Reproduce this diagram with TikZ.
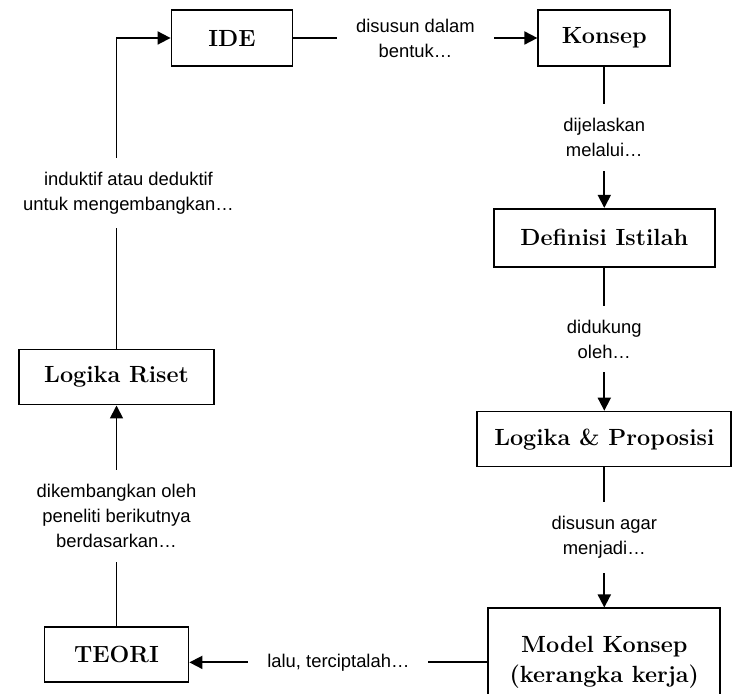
\documentclass[tikz,border=0pt]{standalone}
\usepackage{amsmath}
\usepackage{xcolor}
\usepackage{fontspec}
\newfontfamily\phrasefont{Liberation Sans}
\usepackage{tikz}
\usetikzlibrary{arrows.meta, positioning}
\tikzstyle{concept} = [rectangle, draw, line width=0.9pt, minimum height=28pt, text centered, align=center, font=\fontsize{11.7}{15}\selectfont\bfseries]
\tikzstyle{arrow} = [line width=0.9pt, -{Triangle[length=6.5pt, width=6.5pt]}]
\tikzstyle{phrase} = [fill=white, align=center, inner xsep=9.5pt, inner ysep=7pt, font=\phrasefont\fontsize{9.2}{12.5}\selectfont]

\begin{document}
\begin{tikzpicture}[node distance=0cm]
        \useasboundingbox (0,0) rectangle (370pt,-347pt);
        \node (ide) [concept, minimum width=60.5pt] at (116pt,-19pt) {IDE};
        \node (konsep) [concept, minimum width=66pt, right=122pt of ide] {Konsep};
        \node (definisi) [concept, minimum width=110.5pt, minimum height=29pt, below=70.5pt of konsep] {Definisi Istilah};
        \node (proposisi) [concept, minimum width=127pt, minimum height=27.5pt, below=71.5pt of definisi] {Logika \& Proposisi};
        \node (model) [concept, minimum width=116pt, minimum height=54pt, below=70pt of proposisi] {Model Konsep\\(kerangka kerja)};
        \node (teori) [concept, minimum width=72pt, minimum height=27.5pt, left=149pt of model, yshift=3.75pt] {TEORI};
        \node (riset) [concept, minimum width=97.5pt, minimum height=27.5pt, above=110.5pt of teori] {Logika Riset};

        \draw [arrow] (ide) -- node [phrase] {disusun dalam\\bentuk…} (konsep);
        \draw [arrow] (konsep) -- node [phrase] {dijelaskan\\melalui…} (definisi);
        \draw [arrow] (definisi) -- node [phrase] {didukung\\oleh…} (proposisi);
        \draw [arrow] (proposisi) -- node [phrase] {disusun agar\\menjadi…} (model);
        \draw [arrow] (model.west) -- node [phrase] {lalu, terciptalah…} (model.west -| teori.east);
        \draw [arrow] (teori) -- node [phrase] {dikembangkan oleh\\peneliti berikutnya\\berdasarkan…} (riset);
        \draw [arrow] (riset) |- node [phrase, pos=0.25, xshift=6pt] {induktif atau deduktif\\untuk mengembangkan…} (ide);
    \end{tikzpicture}
\end{document}
